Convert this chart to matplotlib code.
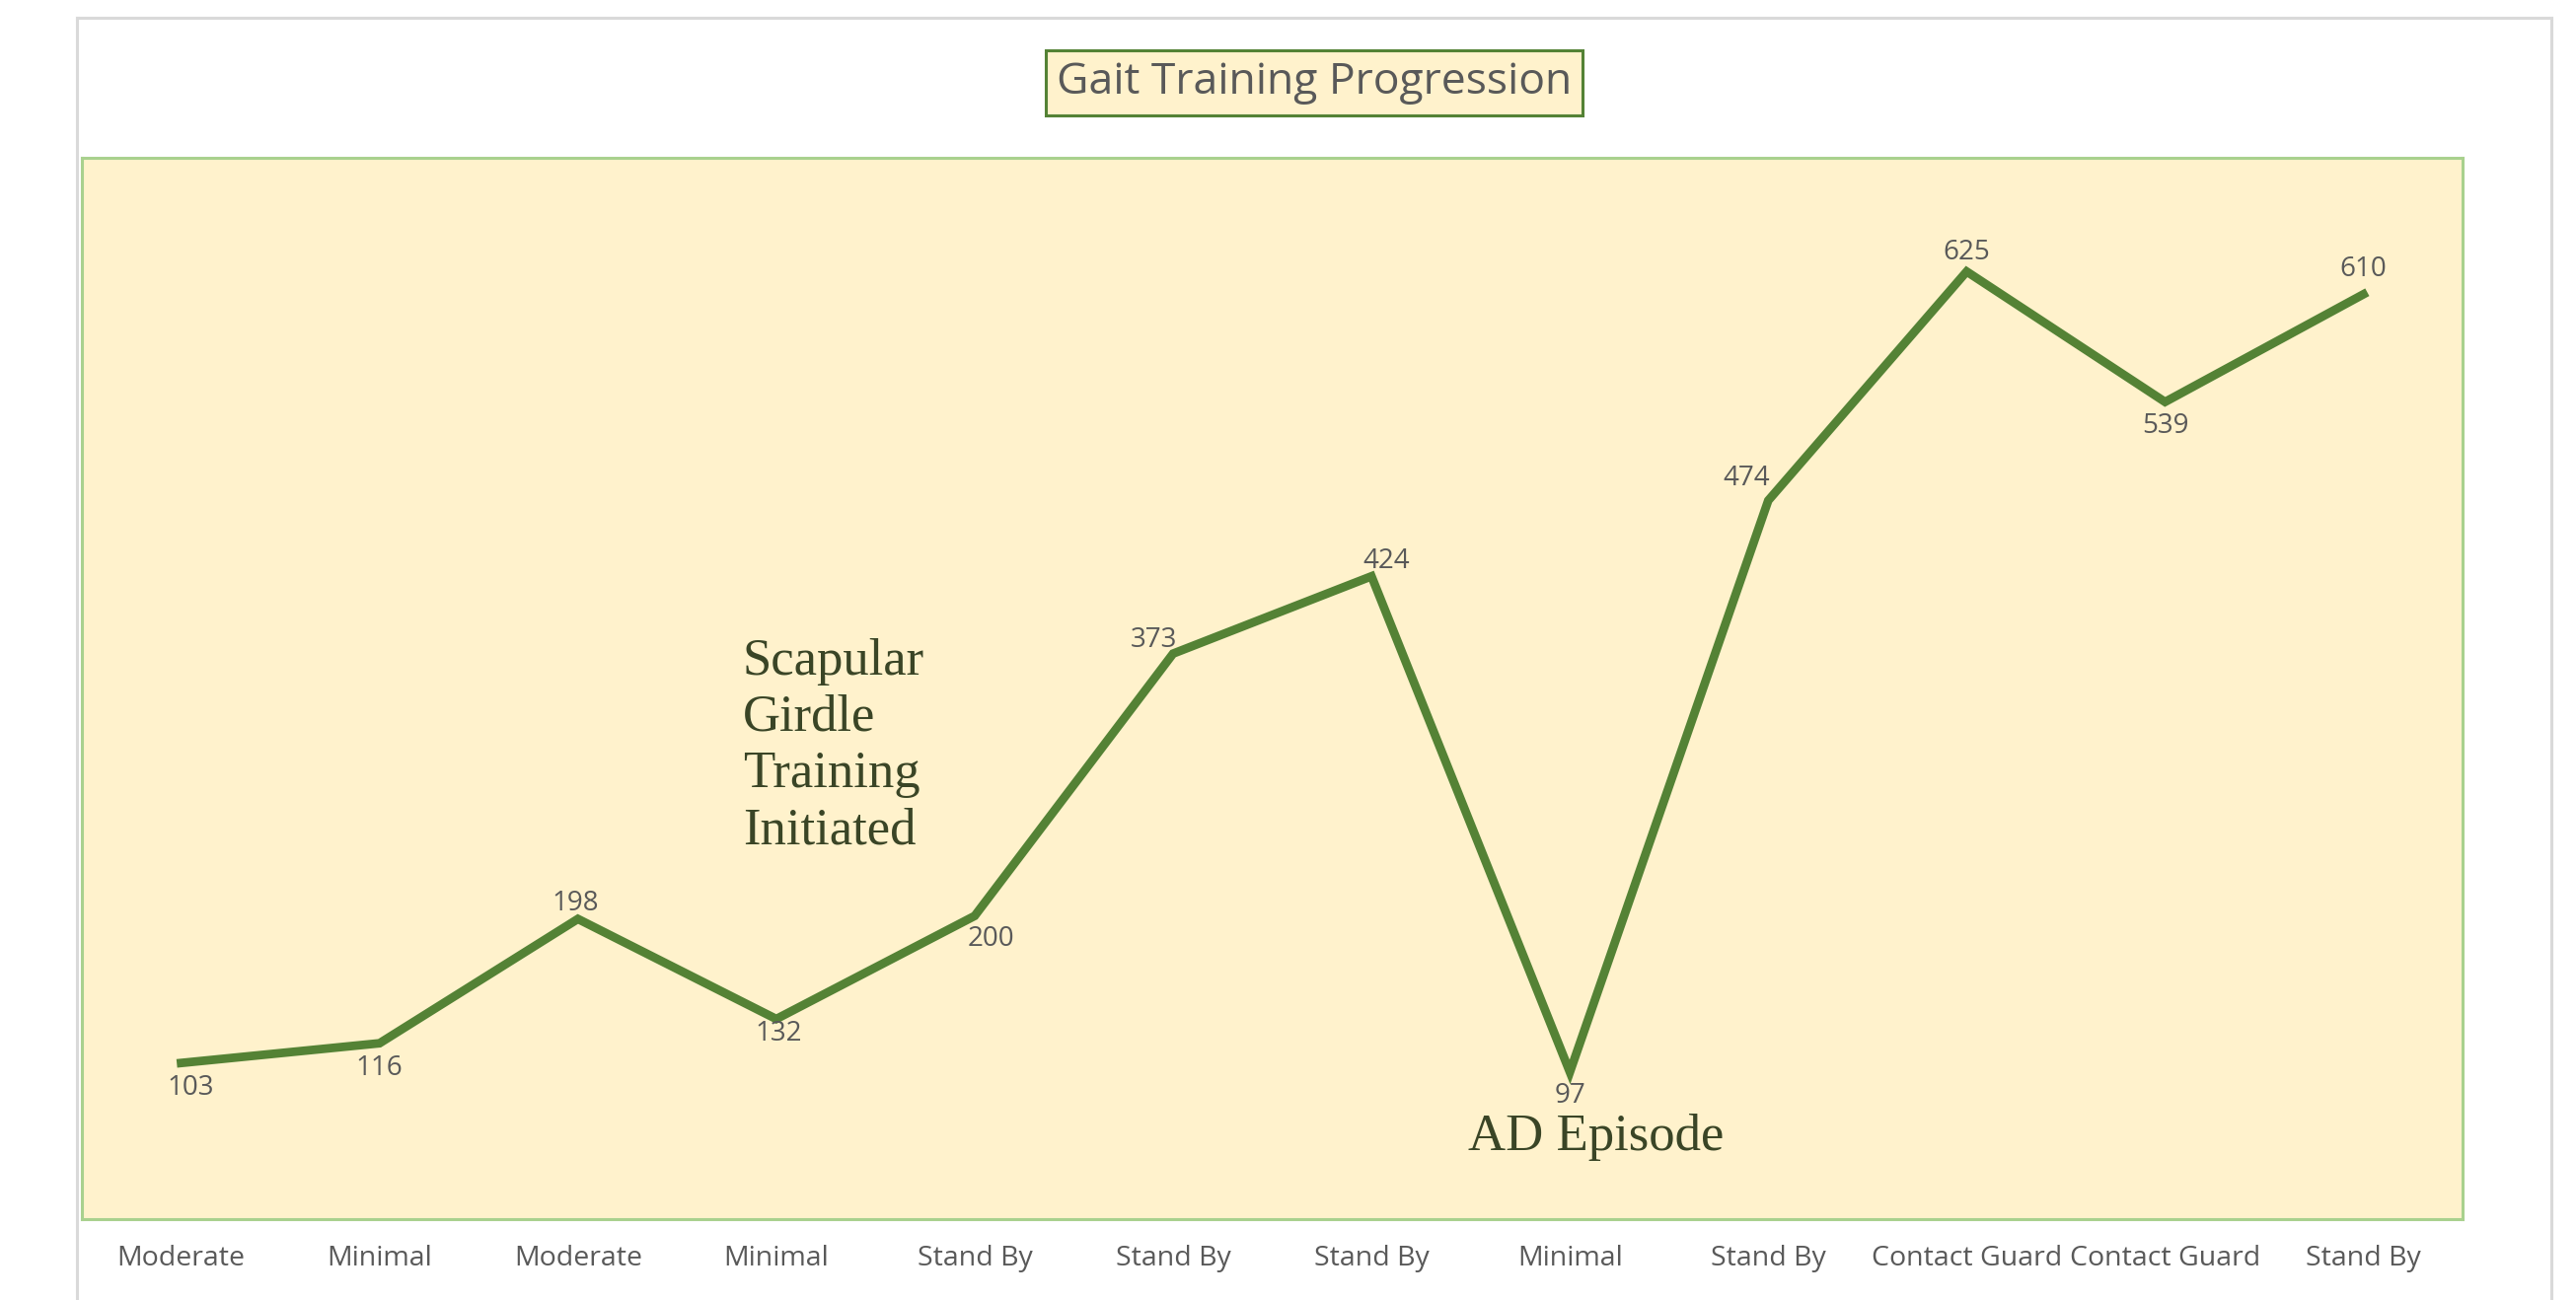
import matplotlib
matplotlib.use("Agg")
import matplotlib.pyplot as plt
from matplotlib.lines import Line2D

# dane wykresu
categories = ['Moderate', 'Minimal', 'Moderate', 'Minimal', 'Stand By', 'Stand By',
              'Stand By', 'Minimal', 'Stand By', 'Contact Guard', 'Contact Guard', 'Stand By']
distances = [103, 116, 198, 132, 200, 373, 424, 97, 474, 625, 539, 610]
title = 'Gait Training Progression'
notes = ['Scapular\nGirdle\nTraining\nInitiated', 'AD Episode']

# przesuniecia etykiet danych (w punktach)
label_offsets = [(7, -18), (0, -18), (-2, 11), (2, -11), (12, -17), (-14, 10),
                 (11, 11), (0, -17), (-16, 16), (0, 14), (0, -18), (0, 18)]

line_color = '#548235'
text_gray = '#595959'
note_color = '#3a4526'

fig = plt.figure(figsize=(26.11, 13.18), dpi=100)
fig.patch.set_facecolor('white')

# szara ramka wokol calego wykresu
frame = dict(color='#d9d9d9', lw=2.2, transform=fig.transFigure)
fig.add_artist(Line2D([0.0299, 0.0299], [-0.05, 0.9863], **frame))
fig.add_artist(Line2D([0.0299, 0.9904], [0.9863, 0.9863], **frame))
fig.add_artist(Line2D([0.9904, 0.9904], [-0.05, 0.9863], **frame))

ax = fig.add_axes([0.0318, 0.0622, 0.9242, 0.8164])
ax.set_facecolor('#fff2cc')
for s in ax.spines.values():
    s.set_color('#a9d18e')
    s.set_linewidth(2.2)

x = list(range(len(categories)))
ax.plot(x, distances, color=line_color, lw=6.3, solid_joinstyle='miter')

for xi, v, off in zip(x, distances, label_offsets):
    ax.annotate(str(v), (xi, v), xytext=off, textcoords='offset points',
                ha='center', va='center', fontsize=20, color=text_gray,
                family='Open Sans')

ax.set_xlim(-0.5, len(categories) - 0.5)
ax.set_ylim(0, 700)
ax.set_yticks([])
ax.set_xticks(x)
ax.set_xticklabels(categories, fontsize=20.5, color=text_gray, family='Open Sans')
ax.tick_params(axis='x', length=0, pad=19)

# opisy zdarzen
ax.text(2.83, 312, notes[0], ha='left', va='center', fontsize=38,
        family='Liberation Serif', color=note_color, linespacing=1.25)
ax.text(7.13, 54, notes[1], ha='center', va='center', fontsize=38,
        family='Liberation Serif', color=note_color)

# tytul w ramce
fig.text(0.5101, 1 - 84 / 1318, title, ha='center', va='center', fontsize=32,
         color=text_gray, family='Open Sans',
         bbox=dict(boxstyle='square,pad=0.25', facecolor='#fff2cc',
                   edgecolor=line_color, lw=2.2))

fig.savefig('out.png', dpi=100)
